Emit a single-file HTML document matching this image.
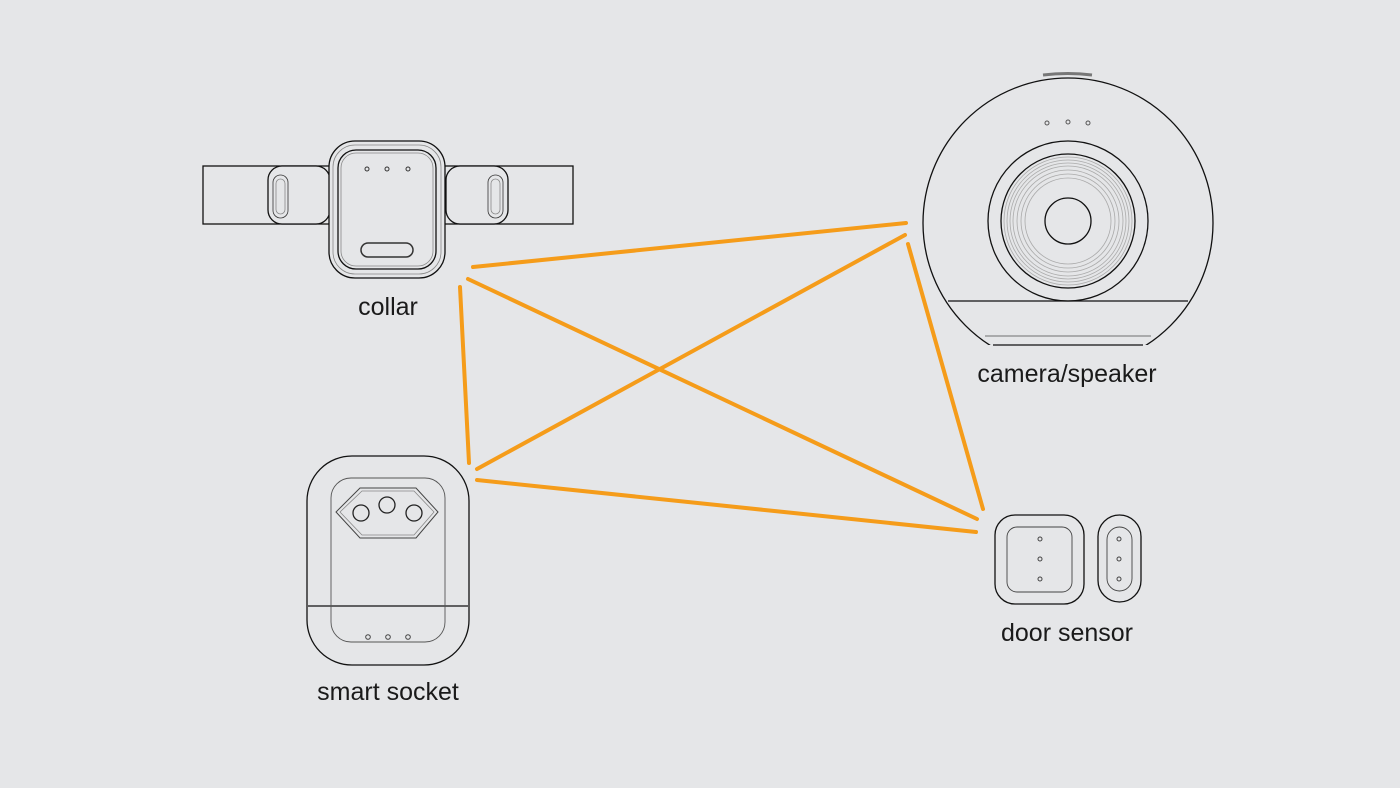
<!DOCTYPE html>
<html><head><meta charset="utf-8"><style>
html,body{margin:0;padding:0;background:#e5e6e8;}
svg{display:block}
text{font-family:"Liberation Sans",sans-serif;font-size:25px;fill:#1a1a1a;text-anchor:middle}
</style></head><body>
<svg width="1400" height="788" viewBox="0 0 1400 788">
<rect width="1400" height="788" fill="#e5e6e8"/>
<!-- collar -->
<g fill="#e5e6e8" stroke="#111" stroke-width="1.3">
<rect x="203" y="166" width="370" height="58"/>
<rect x="268" y="166" width="62" height="58" rx="14"/>
<rect x="446" y="166" width="62" height="58" rx="14"/>
<rect x="329" y="141" width="116" height="137" rx="26"/>
<rect x="338" y="150" width="98" height="119" rx="18"/>
<rect x="361" y="243" width="52" height="14" rx="7" stroke="#333" stroke-width="1.5"/>
</g>
<g fill="none" stroke="#888" stroke-width="0.8">
<rect x="333" y="145" width="108" height="129" rx="22"/>
<rect x="341" y="153" width="92" height="113" rx="15"/>
<rect x="273" y="175" width="15" height="43" rx="7.5" stroke="#333"/>
<rect x="276" y="179" width="9" height="35" rx="4.5"/>
<rect x="488" y="175" width="15" height="43" rx="7.5" stroke="#333"/>
<rect x="491" y="179" width="9" height="35" rx="4.5"/>
</g>
<g fill="none" stroke="#333" stroke-width="1"><circle cx="367" cy="169" r="2"/><circle cx="387" cy="169" r="2"/><circle cx="408" cy="169" r="2"/></g>
<text x="388" y="315">collar</text>
<!-- camera -->
<defs><clipPath id="cc"><rect x="900" y="60" width="330" height="285"/></clipPath></defs>
<path d="M1043 75 Q1068 72 1092 75" stroke="#777" stroke-width="3" fill="none"/>
<circle cx="1068" cy="223" r="145" fill="#e5e6e8" stroke="#111" stroke-width="1.3" clip-path="url(#cc)"/>
<line x1="948" y1="301" x2="1188" y2="301" stroke="#111" stroke-width="1.3"/>
<line x1="985" y1="336" x2="1151" y2="336" stroke="#888" stroke-width="1.3"/>
<line x1="993" y1="345" x2="1143" y2="345" stroke="#111" stroke-width="1.3"/>
<g fill="none"><circle cx="1068" cy="221" r="80" stroke="#111" stroke-width="1.3"/>
<circle cx="1068" cy="221" r="67" stroke="#111" stroke-width="1.3"/>
<g stroke="#aaa" stroke-width="0.8"><circle cx="1068" cy="221" r="64"/><circle cx="1068" cy="221" r="61"/><circle cx="1068" cy="221" r="58"/><circle cx="1068" cy="221" r="55"/><circle cx="1068" cy="221" r="51"/><circle cx="1068" cy="221" r="47"/><circle cx="1068" cy="221" r="43"/></g>
<circle cx="1068" cy="221" r="23" stroke="#111" stroke-width="1.3"/>
<g stroke="#555"><circle cx="1047" cy="123" r="2"/><circle cx="1068" cy="122" r="2"/><circle cx="1088" cy="123" r="2"/></g></g>
<text x="1067" y="382">camera/speaker</text>
<!-- socket -->
<g fill="none">
<rect x="307" y="456" width="162" height="209" rx="45" stroke="#111" stroke-width="1.3"/>
<line x1="308" y1="606" x2="468" y2="606" stroke="#111" stroke-width="1.3"/>
<rect x="331" y="478" width="114" height="164" rx="20" stroke="#555" stroke-width="0.9"/>
<polygon points="360,488 416,488 438,512 416,538 360,538 336,512" stroke="#444" stroke-width="1"/>
<polygon points="362,491 414,491 434,512 414,535 362,535 340,512" stroke="#888" stroke-width="0.8"/>
<g stroke="#222" stroke-width="1.3"><circle cx="361" cy="513" r="8"/><circle cx="387" cy="505" r="8"/><circle cx="414" cy="513" r="8"/></g>
<g stroke="#444"><circle cx="368" cy="637" r="2.3"/><circle cx="388" cy="637" r="2.3"/><circle cx="408" cy="637" r="2.3"/></g>
</g>
<text x="388" y="700">smart socket</text>
<!-- door sensor -->
<g fill="none">
<rect x="995" y="515" width="89" height="89" rx="20" stroke="#111" stroke-width="1.3"/>
<rect x="1007" y="527" width="65" height="65" rx="10" stroke="#444" stroke-width="0.9"/>
<rect x="1098" y="515" width="43" height="87" rx="21.5" stroke="#111" stroke-width="1.3"/>
<rect x="1107" y="527" width="25" height="64" rx="12.5" stroke="#444" stroke-width="0.9"/>
<g stroke="#444"><circle cx="1040" cy="539" r="2"/><circle cx="1040" cy="559" r="2"/><circle cx="1040" cy="579" r="2"/><circle cx="1119" cy="539" r="2"/><circle cx="1119" cy="559" r="2"/><circle cx="1119" cy="579" r="2"/></g>
</g>
<text x="1067" y="641">door sensor</text>
<!-- connectors -->
<g stroke="#f59c1a" stroke-width="4" stroke-linecap="round">
<line x1="473" y1="267" x2="906" y2="223"/>
<line x1="468" y1="279" x2="977" y2="519"/>
<line x1="460" y1="287" x2="469" y2="463"/>
<line x1="477" y1="469" x2="905" y2="235"/>
<line x1="908" y1="244" x2="983" y2="509"/>
<line x1="477" y1="480" x2="976" y2="532"/>
</g>
</svg>
</body></html>
